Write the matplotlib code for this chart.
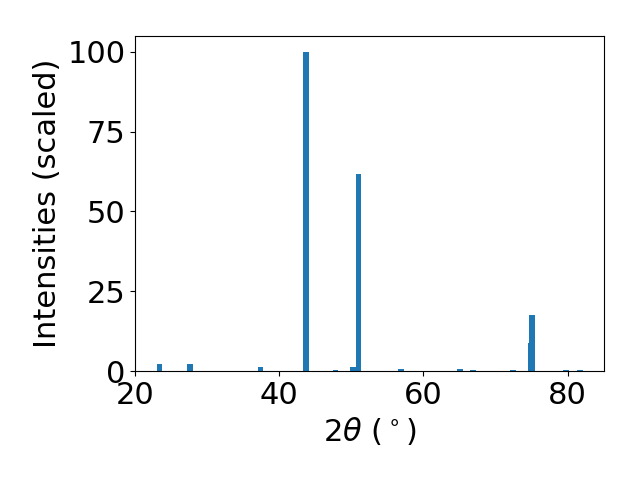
import matplotlib
matplotlib.use("Agg")
import matplotlib.pyplot as plt

# peak positions (2theta, degrees) and scaled intensities
two_theta = [23.4, 27.6, 37.4, 43.75, 47.8, 50.2, 51.0, 56.9, 65.07, 66.9,
             72.4, 74.91, 75.05, 79.8, 81.7]
intensity = [2.2, 2.2, 1.3, 100.0, 0.3, 1.2, 61.8, 0.6, 0.6, 0.3,
             0.3, 8.8, 17.5, 0.3, 0.3]

plt.rc('font', size=22)

fig, ax = plt.subplots(figsize=(6.4, 4.8), dpi=100)
ax.bar(two_theta, intensity, color='tab:blue')
ax.set_xlabel(r'$2\theta$ ($^\circ$)')
ax.set_ylabel('Intensities (scaled)')
ax.set_yticks([0, 25, 50, 75, 100])
ax.set_xlim(left=20)

fig.subplots_adjust(left=0.211, right=0.944, top=0.925, bottom=0.227)
fig.savefig('out.png')
